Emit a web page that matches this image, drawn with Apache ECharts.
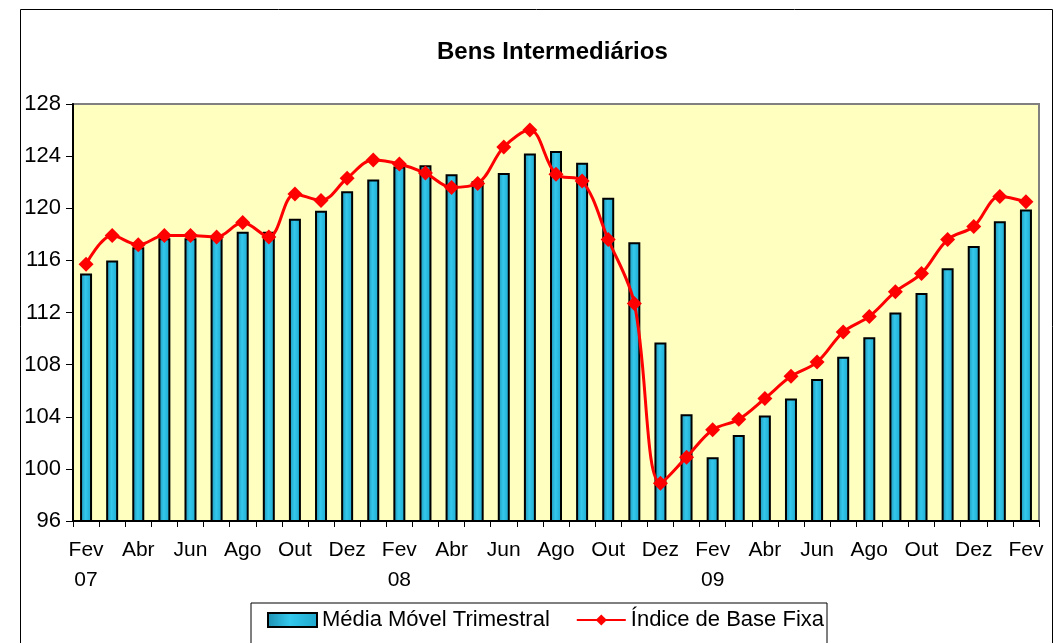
<!DOCTYPE html>
<html><head><meta charset="utf-8">
<script src="https://cdn.jsdelivr.net/npm/echarts@6/dist/echarts.min.js"></script>
<style>html,body{margin:0;padding:0;background:#fff}#c{width:1060px;height:643px}</style>
</head><body><div id="c"></div>
<script>
const categories = ['Fev\n07','Mar','Abr','Mai','Jun','Jul','Ago','Set','Out','Nov','Dez','Jan',
  'Fev\n08','Mar','Abr','Mai','Jun','Jul','Ago','Set','Out','Nov','Dez','Jan',
  'Fev\n09','Mar','Abr','Mai','Jun','Jul','Ago','Set','Out','Nov','Dez','Jan','Fev'];
const mediaMovel = [115.0,116.0,117.0,117.7,117.7,117.7,118.2,118.2,119.2,119.8,121.3,122.2,
  123.2,123.3,122.6,122.1,122.7,124.2,124.4,123.5,120.8,117.4,109.7,104.2,
  100.9,102.6,104.1,105.4,106.9,108.6,110.1,112.0,113.5,115.4,117.1,119.0,119.9];
const indiceBase = [115.7,117.9,117.2,117.9,117.9,117.8,118.9,117.8,121.1,120.6,122.3,123.7,
  123.4,122.7,121.6,121.9,124.7,126.0,122.6,122.1,117.6,112.7,98.9,100.9,
  103.0,103.8,105.4,107.1,108.2,110.5,111.7,113.6,115.0,117.6,118.6,120.9,120.5];
const yMin = 96, yMax = 128, yStep = 4;
const FONT = 'Liberation Sans, Arial, sans-serif';

const chart = echarts.init(document.getElementById('c'), null, {renderer:'canvas'});
chart.setOption({
  animation: false,
  backgroundColor: '#ffffff',
  title: {
    text: 'Bens Intermediários', left: 432, top: 35,
    textStyle: {fontFamily: FONT, fontSize: 24, fontWeight: 'bold', color: '#000'}
  },
  graphic: [{
    type: 'rect', left: 18, top: 7, z: -1,
    shape: {width: 1032, height: 660},
    style: {fill: 'none', stroke: '#000', lineWidth: 1}
  }],
  legend: {
    left: 251, top: 603,
    itemWidth: 49, itemHeight: 14, itemGap: 26,
    padding: [6, 3, 14, 16],
    borderColor: '#000', borderWidth: 1,
    textStyle: {fontFamily: FONT, fontSize: 22, color: '#000'},
    data: [{name: 'Média Móvel Trimestral', icon: 'rect'}, {name: 'Índice de Base Fixa'}]
  },
  grid: {
    left: 73, right: 21, top: 104, bottom: 122,
    show: true, backgroundColor: '#FFFFC0', borderColor: '#808080', borderWidth: 2
  },
  xAxis: {
    type: 'category', data: categories, boundaryGap: true,
    axisLine: {lineStyle: {color: '#000', width: 2}},
    axisTick: {show: true, interval: 0, length: 6, inside: false, lineStyle: {color: '#000', width: 1}},
    axisLabel: {interval: 1, margin: 14, fontFamily: FONT, fontSize: 21, color: '#000', lineHeight: 30}
  },
  yAxis: {
    type: 'value', min: yMin, max: yMax, interval: yStep,
    axisLine: {show: true, lineStyle: {color: '#000', width: 2}},
    axisTick: {show: true, length: 7, lineStyle: {color: '#000', width: 1}},
    splitLine: {show: false},
    axisLabel: {margin: 12, fontFamily: FONT, fontSize: 22, color: '#000'}
  },
  series: [
    {
      name: 'Média Móvel Trimestral', type: 'bar', data: mediaMovel, barWidth: 12,
      itemStyle: {
        color: new echarts.graphic.LinearGradient(0, 0, 1, 0, [
          {offset: 0, color: '#1E8FB0'}, {offset: 0.45, color: '#33C8EC'}, {offset: 1, color: '#1FA6CC'}
        ]),
        borderColor: '#000', borderWidth: 2
      }
    },
    {
      name: 'Índice de Base Fixa', type: 'line', data: indiceBase, smooth: 0.35,
      symbol: 'diamond', symbolSize: 15,
      lineStyle: {color: '#FF0000', width: 3},
      itemStyle: {color: '#FF0000'}
    }
  ]
});
</script></body></html>
